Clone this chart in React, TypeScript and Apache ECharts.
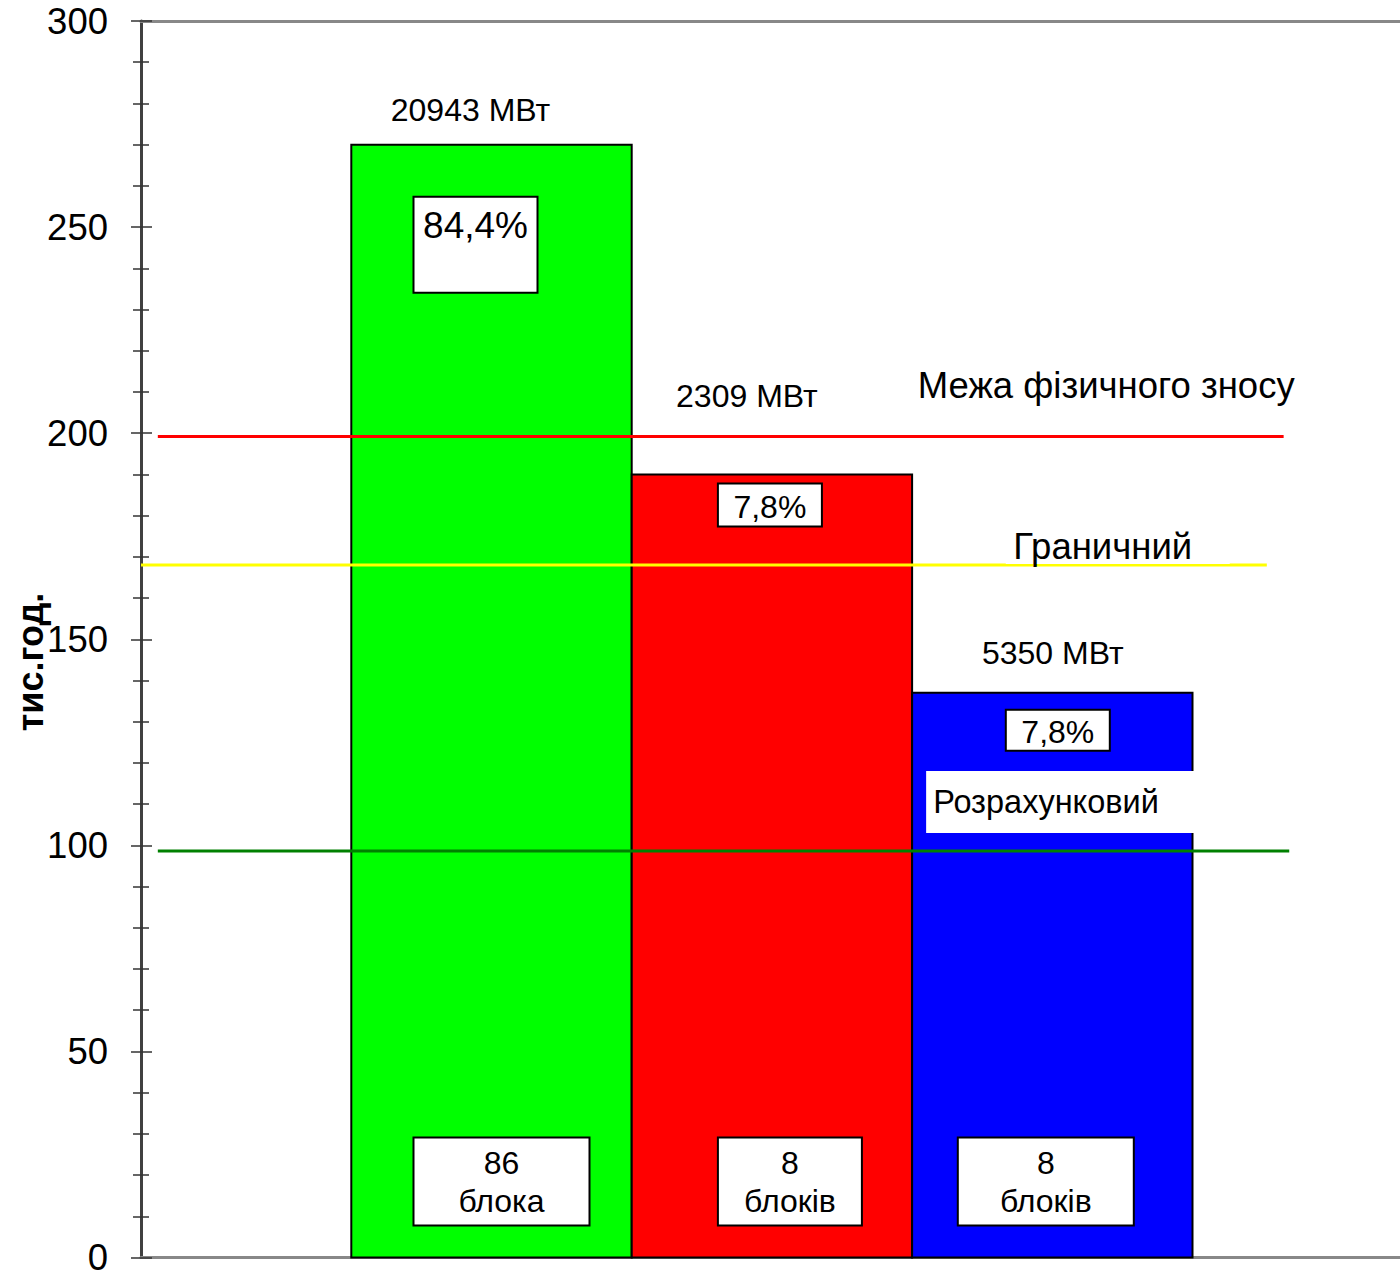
import React, { useEffect, useRef } from 'react';
import * as echarts from 'echarts';

// ---- data ----
const barStart = [1.5, 3.5, 5.5];
const barEnd = [3.5, 5.5, 7.5];
const barValues = [270, 190, 137];
const capacityLabels = ['20943 МВт', '2309 МВт', '5350 МВт'];
const shareLabels = ['84,4%', '7,8%', '7,8%'];
const unitCounts = ['86', '8', '8'];
const unitWords = ['блока', 'блоків', 'блоків'];

const refNames = ['Межа фізичного зносу', 'Граничний', 'Розрахунковий'];
const refValues = [199.2, 168, 98.6];
const refStart = [0.12, 0, 0.12];
const refEnd = [8.15, 8.03, 8.19];

const xMax = 8.98;
const yMin = 0;
const yMax = 300;
const yStep = 50;
const yAxisName = 'тис.год.';

// ---- layout / style ----
const FONT = "'Liberation Sans', Arial, sans-serif";
const BAR_COLORS = ['#00ff00', '#ff0000', '#0000ff'];
const REF_COLORS = ['#ff0000', '#ffff00', '#008000'];
const CAP_OFFSET = [
  [-21, -35],
  [-25, -78],
  [0.5, -40],
];
const SHARE_BOX = [
  { dx: -78, dy: 52, w: 124, h: 96, ty: 29, fs: 37 },
  { dx: -54, dy: 9, w: 104, h: 43, ty: 24, fs: 32 },
  { dx: -46.5, dy: 17, w: 104, h: 41, ty: 22, fs: 32 },
];
const COUNT_BOX = [
  { dx: -78, w: 176 },
  { dx: -54, w: 144 },
  { dx: -94.5, w: 176 },
];
const REF_LABEL = [
  { x: 5.54, dy: -51, align: 'left', fs: 36.5, box: null as null | number[] },
  { x: 6.86, dy: -19, align: 'center', fs: 36.5, box: [-97, 127, -38, -1] },
  { x: 5.65, dy: -49, align: 'left', fs: 32.5, box: [-7, 262, -80, -18] },
];

export default function App() {
  const ref = useRef<HTMLDivElement>(null);
  useEffect(() => {
    if (!ref.current) return;
    const prevOverflow = document.body.style.overflow;
    document.body.style.overflow = 'hidden';
    const chart = echarts.init(ref.current, undefined, { renderer: 'svg' });

    const barData = barValues.map((v, i) => [barStart[i], barEnd[i], v]);
    const refData = refValues.map((v, i) => [refStart[i], refEnd[i], v]);

    const yAxisBase = {
      type: 'value',
      min: yMin,
      max: yMax,
      interval: yStep,
      position: 'left',
      splitLine: { show: false },
    };

    const option: any = {
      animation: false,
      backgroundColor: '#ffffff',
      grid: { left: 141, right: 0, top: 21, bottom: 14, containLabel: false },
      xAxis: [
        {
          type: 'value', min: 0, max: xMax, position: 'bottom',
          axisLine: { show: true, onZero: false, lineStyle: { color: '#888888', width: 3 } },
          axisTick: { show: false }, axisLabel: { show: false }, splitLine: { show: false },
        },
        {
          type: 'value', min: 0, max: xMax, position: 'top',
          axisLine: { show: true, onZero: false, lineStyle: { color: '#888888', width: 3 } },
          axisTick: { show: false }, axisLabel: { show: false }, splitLine: { show: false },
        },
      ],
      yAxis: [
        {
          ...yAxisBase,
          axisLine: { show: true, onZero: false, lineStyle: { color: '#404040', width: 3 } },
          axisTick: { show: true, length: 10, lineStyle: { color: '#333333', width: 1.5 } },
          minorTick: { show: true, splitNumber: 5, length: 8, lineStyle: { color: '#333333', width: 1.5 } },
          axisLabel: { fontSize: 36.5, fontFamily: FONT, color: '#000000', margin: 33 },
        },
        {
          ...yAxisBase,
          axisLine: { show: false, onZero: false },
          axisTick: { show: true, inside: true, length: 11, lineStyle: { color: '#333333', width: 1.5 } },
          minorTick: { show: true, splitNumber: 5, length: 8, lineStyle: { color: '#333333', width: 1.5 } },
          axisLabel: { show: false },
        },
      ],
      graphic: [
        {
          type: 'text',
          x: 30,
          y: 662,
          rotation: Math.PI / 2,
          style: {
            text: yAxisName,
            fontSize: 36,
            fontWeight: 'bold',
            fontFamily: FONT,
            fill: '#000000',
            align: 'center',
            verticalAlign: 'middle',
          },
        },
      ],
      series: [
        {
          type: 'custom',
          name: 'bars',
          xAxisIndex: 0,
          yAxisIndex: 0,
          z: 2,
          clip: false,
          encode: { x: [0, 1], y: 2 },
          data: barData,
          renderItem: (params: any, api: any) => {
            const i = params.dataIndex;
            const p0 = api.coord([api.value(0), api.value(2)]);
            const p1 = api.coord([api.value(1), 0]);
            return {
              type: 'rect',
              shape: { x: p0[0], y: p0[1], width: p1[0] - p0[0], height: p1[1] - p0[1] },
              style: { fill: BAR_COLORS[i], stroke: '#000000', lineWidth: 2 },
            };
          },
        },
        {
          type: 'custom',
          name: 'refs',
          xAxisIndex: 0,
          yAxisIndex: 0,
          z: 3,
          clip: false,
          encode: { x: [0, 1], y: 2 },
          data: refData,
          renderItem: (params: any, api: any) => {
            const i = params.dataIndex;
            const a = api.coord([api.value(0), api.value(2)]);
            const b = api.coord([api.value(1), api.value(2)]);
            return {
              type: 'line',
              shape: { x1: a[0], y1: a[1], x2: b[0], y2: b[1] },
              style: { stroke: REF_COLORS[i], lineWidth: 3 },
            };
          },
        },
        {
          type: 'custom',
          name: 'refLabels',
          xAxisIndex: 0,
          yAxisIndex: 0,
          z: 4,
          clip: false,
          encode: { x: [0, 1], y: 2 },
          data: refData,
          renderItem: (params: any, api: any) => {
            const i = params.dataIndex;
            const L = REF_LABEL[i];
            const p = api.coord([L.x, api.value(2)]);
            const children: any[] = [];
            if (L.box) {
              children.push({
                type: 'rect',
                shape: { x: p[0] + L.box[0], y: p[1] + L.box[2], width: L.box[1] - L.box[0], height: L.box[3] - L.box[2] },
                style: { fill: '#ffffff' },
              });
            }
            children.push({
              type: 'text',
              x: p[0],
              y: p[1] + L.dy,
              style: {
                text: refNames[i],
                fontSize: L.fs,
                fontFamily: FONT,
                fill: '#000000',
                align: L.align,
                verticalAlign: 'middle',
              },
            });
            return { type: 'group', children };
          },
        },
        {
          type: 'custom',
          name: 'barLabels',
          xAxisIndex: 0,
          yAxisIndex: 0,
          z: 5,
          clip: false,
          encode: { x: [0, 1], y: 2 },
          data: barData,
          renderItem: (params: any, api: any) => {
            const i = params.dataIndex;
            const top = api.coord([(api.value(0) + api.value(1)) / 2, api.value(2)]);
            const base = api.coord([(api.value(0) + api.value(1)) / 2, 0]);
            const cx = top[0];
            const ty = top[1];
            const by = base[1];
            const s = SHARE_BOX[i];
            const c = COUNT_BOX[i];
            const txt = (text: string, x: number, y: number, fs: number) => ({
              type: 'text',
              x,
              y,
              style: { text, fontSize: fs, fontFamily: FONT, fill: '#000000', align: 'center', verticalAlign: 'middle' },
            });
            return {
              type: 'group',
              children: [
                txt(capacityLabels[i], cx + CAP_OFFSET[i][0], ty + CAP_OFFSET[i][1], 32),
                {
                  type: 'rect',
                  shape: { x: cx + s.dx, y: ty + s.dy, width: s.w, height: s.h },
                  style: { fill: '#ffffff', stroke: '#000000', lineWidth: 2 },
                },
                txt(shareLabels[i], cx + s.dx + s.w / 2, ty + s.dy + s.ty, s.fs),
                {
                  type: 'rect',
                  shape: { x: cx + c.dx, y: by - 120, width: c.w, height: 88 },
                  style: { fill: '#ffffff', stroke: '#000000', lineWidth: 2 },
                },
                txt(unitCounts[i], cx + c.dx + c.w / 2, by - 95, 32),
                txt(unitWords[i], cx + c.dx + c.w / 2, by - 57, 32),
              ],
            };
          },
        },
      ],
    };

    chart.setOption(option);
    return () => {
      chart.dispose();
      document.body.style.overflow = prevOverflow;
    };
  }, []);

  return (
    <div
      ref={ref}
      style={{ position: 'fixed', left: 0, top: 0, width: 1400, height: 1276 }}
    />
  );
}
